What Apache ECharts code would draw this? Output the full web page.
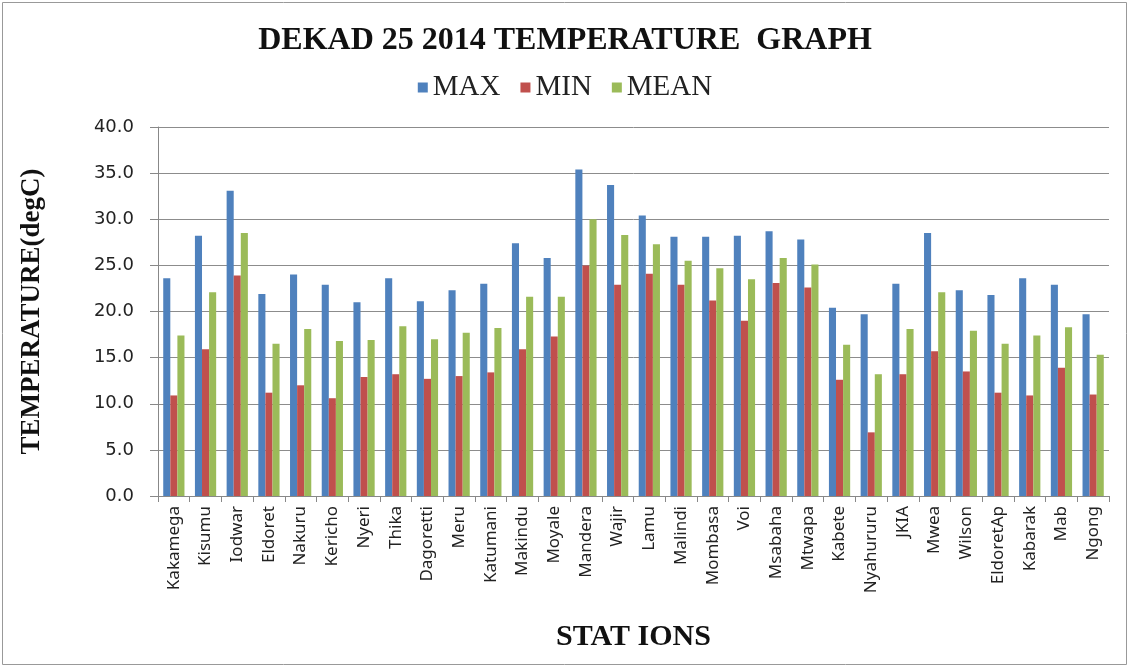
<!DOCTYPE html>
<html>
<head>
<meta charset="utf-8">
<script src="https://cdn.jsdelivr.net/npm/echarts@6/dist/echarts.min.js"></script>
<style>
  html, body { margin: 0; padding: 0; background: #fff; }
  #main { width: 1130px; height: 668px; }
</style>
</head>
<body>
<div id="main"></div>
<script>
// stations along the x axis
var stations = ['Kakamega', 'Kisumu', 'Iodwar', 'Eldoret', 'Nakuru', 'Kericho', 'Nyeri', 'Thika',
  'Dagoretti', 'Meru', 'Katumani', 'Makindu', 'Moyale', 'Mandera', 'Wajir', 'Lamu', 'Malindi',
  'Mombasa', 'Voi', 'Msabaha', 'Mtwapa', 'Kabete', 'Nyahururu', 'JKIA', 'Mwea', 'Wilson',
  'EldoretAp', 'Kabarak', 'Mab', 'Ngong']

var maxTemp = [23.6, 28.2, 33.1, 21.9, 24.0, 22.9, 21.0, 23.6, 21.1, 22.3, 23.0, 27.4, 25.8, 35.4, 33.7,
  30.4, 28.1, 28.1, 28.2, 28.7, 27.8, 20.4, 19.7, 23.0, 28.5, 22.3, 21.8, 23.6, 22.9, 19.7]
var minTemp = [10.9, 15.9, 23.9, 11.2, 12.0, 10.6, 12.9, 13.2, 12.7, 13.0, 13.4, 15.9, 17.3, 25.0, 22.9,
  24.1, 22.9, 21.2, 19.0, 23.1, 22.6, 12.6, 6.9, 13.2, 15.7, 13.5, 11.2, 10.9, 13.9, 11.0]
var meanTemp = [17.4, 22.1, 28.5, 16.5, 18.1, 16.8, 16.9, 18.4, 17.0, 17.7, 18.2, 21.6, 21.6, 30.0, 28.3,
  27.3, 25.5, 24.7, 23.5, 25.8, 25.1, 16.4, 13.2, 18.1, 22.1, 17.9, 16.5, 17.4, 18.3, 15.3]

var myChart = echarts.init(document.getElementById('main'))

var option = {
  animation: false,
  color: ['#4F81BD', '#C0504D', '#9BBB59'],
  title: {
    text: 'DEKAD 25 2014 TEMPERATURE  GRAPH',
    left: 'center',
    top: 20,
    textStyle: {
      fontFamily: 'Liberation Serif',
      fontWeight: 'bold',
      fontSize: 32,
      color: '#111'
    }
  },
  legend: {
    top: 68,
    left: 'center',
    icon: 'rect',
    itemWidth: 10,
    itemHeight: 10,
    itemGap: 20,
    textStyle: {
      fontFamily: 'Liberation Serif',
      fontSize: 29,
      color: '#222'
    }
  },
  grid: {
    left: 158,
    right: 21,
    top: 127,
    bottom: 172
  },
  xAxis: {
    type: 'category',
    data: stations,
    name: 'STAT IONS',
    nameLocation: 'middle',
    nameGap: 126,
    nameTextStyle: {
      fontFamily: 'Liberation Serif',
      fontWeight: 'bold',
      fontSize: 30,
      color: '#111'
    },
    axisLine: { lineStyle: { color: '#888' } },
    axisTick: { show: true, length: 6, lineStyle: { color: '#888' } },
    axisLabel: {
      rotate: 90,
      interval: 0,
      margin: 10,
      fontFamily: 'Noto Sans',
      fontSize: 17,
      color: '#222'
    }
  },
  yAxis: {
    type: 'value',
    min: 0,
    max: 40,
    interval: 5,
    name: 'TEMPERATURE(degC)',
    nameLocation: 'middle',
    nameGap: 112,
    nameTextStyle: {
      fontFamily: 'Liberation Serif',
      fontWeight: 'bold',
      fontSize: 27,
      color: '#111'
    },
    axisLine: { show: true, lineStyle: { color: '#888' } },
    axisTick: { show: true, length: 8, lineStyle: { color: '#888' } },
    splitLine: { lineStyle: { color: '#8c8c8c' } },
    axisLabel: {
      margin: 24,
      fontFamily: 'DejaVu Sans',
      fontSize: 18,
      color: '#222',
      formatter: function (v) { return v.toFixed(1) }
    }
  },
  series: [
    { name: 'MAX', type: 'bar', data: maxTemp, barGap: '0%', barCategoryGap: '33%' },
    { name: 'MIN', type: 'bar', data: minTemp },
    { name: 'MEAN', type: 'bar', data: meanTemp }
  ],
  graphic: [
    {
      type: 'rect',
      shape: { x: 2.5, y: 2.5, width: 1124, height: 662 },
      style: { fill: 'none', stroke: '#999', lineWidth: 1 }
    }
  ]
}

myChart.setOption(option)
</script>
</body>
</html>
